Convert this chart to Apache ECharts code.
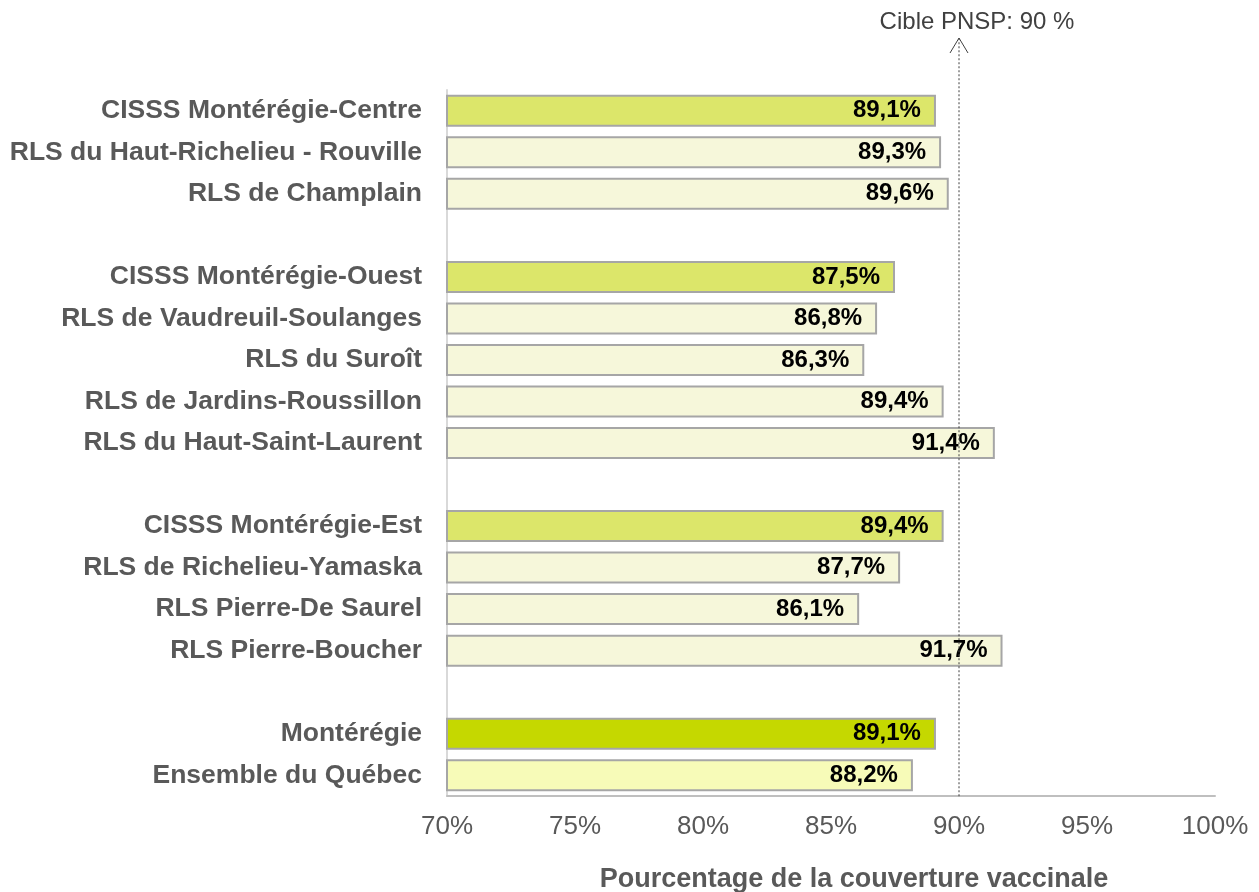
<!DOCTYPE html>
<html><head><meta charset="utf-8">
<script src="https://cdn.jsdelivr.net/npm/echarts@6/dist/echarts.min.js"></script>
<style>html,body{margin:0;padding:0;background:#fff}#c{width:1259px;height:892px}</style>
</head><body><div id="c"></div>
<script>
const categories = ['CISSS Montérégie-Centre','RLS du Haut-Richelieu - Rouville','RLS de Champlain',' ',
 'CISSS Montérégie-Ouest','RLS de Vaudreuil-Soulanges','RLS du Suroît','RLS de Jardins-Roussillon','RLS du Haut-Saint-Laurent','  ',
 'CISSS Montérégie-Est','RLS de Richelieu-Yamaska','RLS Pierre-De Saurel','RLS Pierre-Boucher','   ',
 'Montérégie','Ensemble du Québec'];
const values = [89.1,89.3,89.6,null,87.5,86.8,86.3,89.4,91.4,null,89.4,87.7,86.1,91.7,null,89.1,88.2];
const groups = ['cisss','rls','rls',null,'cisss','rls','rls','rls','rls',null,'cisss','rls','rls','rls',null,'region','province'];
const xTicks = [70,75,80,85,90,95,100];
const target = 90;
const targetLabel = 'Cible PNSP: 90 %';
const axisTitle = 'Pourcentage de la couverture vaccinale';

const colorMap = {cisss:'#DCE66A', rls:'#F6F7DA', region:'#C5D800', province:'#F7FBB8'};
const font = '"Liberation Sans", Arial, sans-serif';
const chart = echarts.init(document.getElementById('c'));
const data = values.map((v,i)=> v==null ? '-' : {value:v, itemStyle:{color:colorMap[groups[i]], borderColor:'#A6A6A6', borderWidth:2}});
chart.setOption({
  animation:false,
  textStyle:{fontFamily:font},
  grid:{left:447, right:44, top:90, bottom:96, containLabel:false, outerBoundsMode:'none'},
  xAxis:{type:'value', min:xTicks[0], max:xTicks[xTicks.length-1], interval:5,
    axisLine:{show:true, lineStyle:{color:'#BFBFBF', width:2}}, axisTick:{show:false}, splitLine:{show:false},
    axisLabel:{color:'#595959', fontSize:26, margin:18, fontFamily:font, formatter:v=>v+'%'},
    name:axisTitle, nameLocation:'middle', nameGap:70,
    nameTextStyle:{color:'#595959', fontSize:27, fontWeight:'bold', fontFamily:font, padding:[0,0,0,46]}},
  yAxis:{type:'category', inverse:true, data:categories,
    axisLine:{show:true, lineStyle:{color:'#D9D9D9', width:2}}, axisTick:{show:false},
    axisLabel:{color:'#595959', fontSize:26.5, fontWeight:'bold', margin:25, fontFamily:font}},
  series:[{type:'bar', data:data, barWidth:32,
    label:{show:true, position:'insideRight', distance:15, color:'#000', fontSize:24, fontWeight:'bold', fontFamily:font,
      formatter:p=>String(p.value).replace('.',',')+'%'}}]
});
const xp = chart.convertToPixel({xAxisIndex:0}, target);
const yBottom = chart.convertToPixel({yAxisIndex:0}, categories[categories.length-1]) + 21;
const yTop = 38;
chart.setOption({graphic:[
  {type:'line', shape:{x1:xp,y1:yBottom,x2:xp,y2:yTop}, style:{stroke:'#404040', lineWidth:1, lineDash:[2,2]}, z:10},
  {type:'polyline', shape:{points:[[xp-9,yTop+15],[xp,yTop],[xp+9,yTop+15]]}, style:{stroke:'#404040', lineWidth:1, fill:null}, z:10},
  {type:'text', x:xp+18, y:22, style:{text:targetLabel, fill:'#404040', font:'24px '+font, textAlign:'center', textVerticalAlign:'middle'}, z:10}
]});
</script></body></html>
